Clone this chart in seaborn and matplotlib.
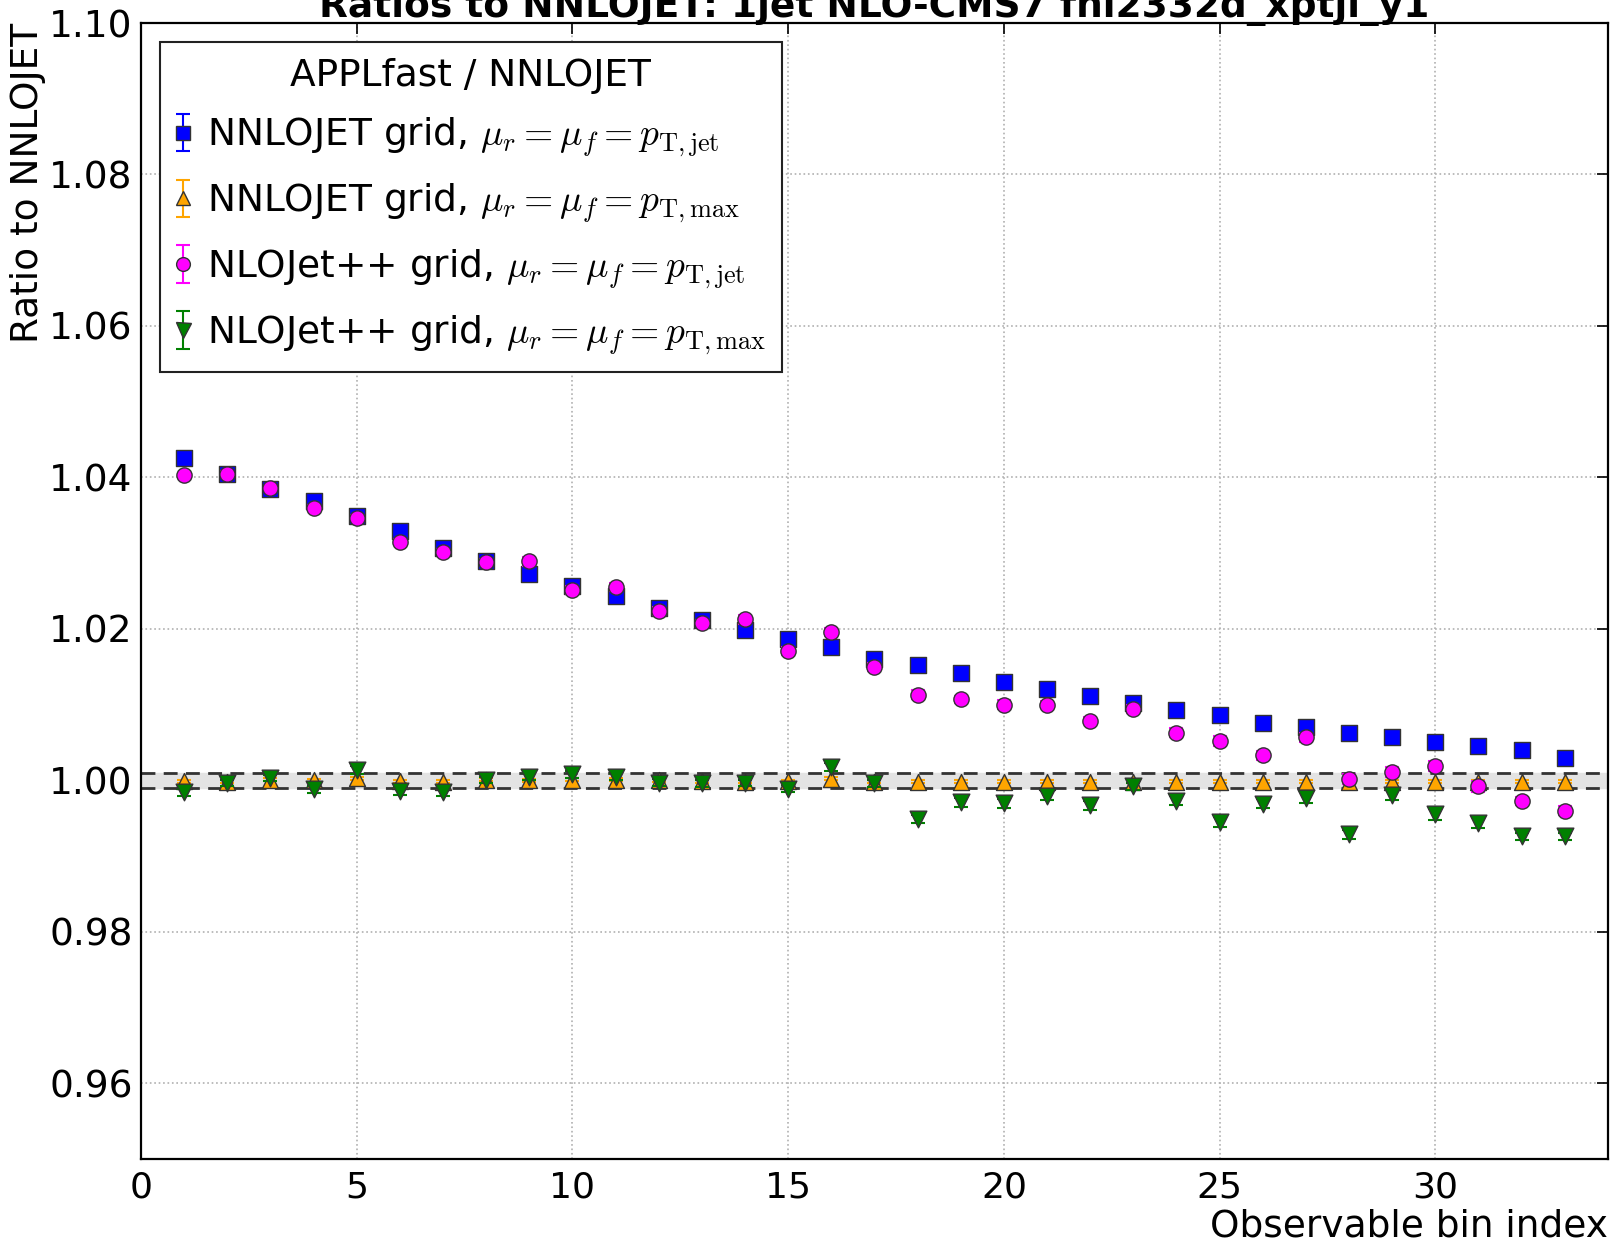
import numpy as np
import pandas as pd
import matplotlib
matplotlib.use("Agg")
import matplotlib.pyplot as plt
from matplotlib.lines import Line2D
from matplotlib.container import ErrorbarContainer
from matplotlib.legend_handler import HandlerTuple, HandlerErrorbar
import seaborn as sns

# ---------------- data ----------------
bins = list(range(1, 34))

nnlojet_ptjet = [1.0426, 1.0404, 1.0385, 1.0369, 1.0349, 1.0329, 1.0307, 1.0289, 1.0273, 1.0257,
                 1.0243, 1.0228, 1.0212, 1.0198, 1.0187, 1.0176, 1.0160, 1.0152, 1.0142, 1.0130,
                 1.0120, 1.0111, 1.0102, 1.0093, 1.0086, 1.0076, 1.0071, 1.0063, 1.0057, 1.0051,
                 1.0046, 1.0040, 1.0029]
nnlojet_ptjet_err = [0.0002] * 33

nnlojet_ptmax = [0.9999, 0.9998, 1.0001, 1.0000, 1.0003, 0.9999, 0.9998, 1.0001, 1.0000, 1.0001,
                 1.0001, 1.0000, 0.9999, 0.9998, 0.9999, 1.0002, 0.9998, 0.9998, 0.9998, 0.9998,
                 0.9998, 0.9998, 0.9998, 0.9998, 0.9998, 0.9998, 0.9998, 0.9998, 0.9998, 0.9998,
                 0.9998, 0.9998, 0.9998]
nnlojet_ptmax_err = [0.0002] * 33

nlojet_ptjet = [1.0403, 1.0405, 1.0386, 1.0360, 1.0347, 1.0315, 1.0302, 1.0288, 1.0289, 1.0251,
                1.0255, 1.0224, 1.0208, 1.0213, 1.0171, 1.0196, 1.0150, 1.0113, 1.0107, 1.0100,
                1.0100, 1.0079, 1.0094, 1.0063, 1.0052, 1.0033, 1.0057, 1.0002, 1.0011, 1.0019,
                0.9992, 0.9973, 0.9960]
nlojet_ptjet_err = [0.0003, 0.0003, 0.0003, 0.0004, 0.0003, 0.0004, 0.0004, 0.0004, 0.0006, 0.0005,
                    0.0005, 0.0005, 0.0004, 0.0006, 0.0005, 0.0005, 0.0005, 0.0006, 0.0005, 0.0006,
                    0.0005, 0.0005, 0.0005, 0.0006, 0.0006, 0.0006, 0.0006, 0.0007, 0.0007, 0.0007,
                    0.0007, 0.0005, 0.0006]

nlojet_ptmax = [0.9984, 0.9996, 1.0003, 0.9988, 1.0014, 0.9986, 0.9985, 1.0000, 1.0005, 1.0008,
                1.0005, 0.9997, 0.9996, 0.9996, 0.9989, 1.0018, 0.9996, 0.9949, 0.9971, 0.9970,
                0.9980, 0.9967, 0.9992, 0.9973, 0.9945, 0.9969, 0.9977, 0.9929, 0.9981, 0.9955,
                0.9944, 0.9926, 0.9926]
nlojet_ptmax_err = [0.0005, 0.0004, 0.0004, 0.0005, 0.0005, 0.0005, 0.0005, 0.0004, 0.0005, 0.0005,
                    0.0005, 0.0005, 0.0005, 0.0004, 0.0005, 0.0005, 0.0005, 0.0005, 0.0006, 0.0006,
                    0.0006, 0.0006, 0.0005, 0.0006, 0.0006, 0.0006, 0.0007, 0.0006, 0.0007, 0.0007,
                    0.0007, 0.0005, 0.0005]

labels = [r"NNLOJET grid, $\mu_r = \mu_f = p_{\mathrm{T,jet}}$",
          r"NNLOJET grid, $\mu_r = \mu_f = p_{\mathrm{T,max}}$",
          r"NLOJet++ grid, $\mu_r = \mu_f = p_{\mathrm{T,jet}}$",
          r"NLOJet++ grid, $\mu_r = \mu_f = p_{\mathrm{T,max}}$"]
legend_title = "APPLfast / NNLOJET"
title = "Ratios to NNLOJET: 1jet NLO-CMS7 fnl2332d_xptjl_y1"
xlabel = "Observable bin index"
ylabel = "Ratio to NNLOJET"
yticks = [0.96, 0.98, 1.00, 1.02, 1.04, 1.06, 1.08, 1.10]
xticks = [0, 5, 10, 15, 20, 25, 30]

# ---------------- style ----------------
sns.set_theme(style="white")
plt.rcParams.update({
    "font.family": ["DejaVu Sans"],
    "mathtext.fontset": "cm",
    "text.color": "black",
    "axes.labelcolor": "black",
    "xtick.color": "black",
    "ytick.color": "black",
    "xtick.direction": "in",
    "ytick.direction": "in",
    "xtick.top": True,
    "ytick.right": True,
    "xtick.major.size": 8,
    "ytick.major.size": 8,
    "xtick.major.width": 1.2,
    "ytick.major.width": 1.2,
    "axes.edgecolor": "black",
    "axes.linewidth": 1.6,
})

fig = plt.figure(figsize=(16.11, 12.44), dpi=100)
ax = fig.add_axes([0.0875, 0.0683, 0.9106, 0.9132])

# reference band
ax.axhspan(0.999, 1.001, color="#e3e3e3", zorder=1)
ax.axhline(1.001, color="#333333", ls=(0, (5, 3)), lw=2, zorder=2)
ax.axhline(0.999, color="#333333", ls=(0, (5, 3)), lw=2, zorder=2)

series = [
    (nnlojet_ptjet, nnlojet_ptjet_err, "s", "#0000ff", 11.5),
    (nnlojet_ptmax, nnlojet_ptmax_err, "^", "#ffa500", 11.5),
    (nlojet_ptjet, nlojet_ptjet_err, "o", "#ff00ff", 11),
    (nlojet_ptmax, nlojet_ptmax_err, "v", "#008000", 12),
]

handles = []
for i, (vals, errs, mk, col, ms) in enumerate(series):
    df = pd.DataFrame({"bin": bins, "ratio": vals})
    eb = ax.errorbar(bins, vals, yerr=errs, fmt="none", ecolor=col, elinewidth=1.5,
                     capsize=5, capthick=1.5, zorder=3 + 2 * i)
    sns.scatterplot(data=df, x="bin", y="ratio", marker=mk, color=col, s=ms ** 2,
                    edgecolor="#333333", linewidth=1.0, ax=ax, legend=False, zorder=4 + 2 * i)
    mh = Line2D([], [], marker=mk, ls="", color=col, markersize=ms * 0.9,
                markeredgecolor="#333333", markeredgewidth=1.0)
    handles.append((eb, mh))

ax.set_xlim(0, 34)
ax.set_ylim(0.95, 1.10)
ax.set_xticks(xticks)
ax.set_yticks(yticks)
ax.set_yticklabels([f"{t:.2f}" for t in yticks])
ax.tick_params(axis="y", labelsize=27, pad=6)
ax.tick_params(axis="x", labelsize=26, pad=8)
ax.grid(True, ls=":", color="#b0b0b0", lw=1.2)
ax.set_axisbelow(True)

ax.set_title(title, fontsize=27, fontweight="bold", pad=4)
ax.set_xlabel(xlabel, fontsize=27, loc="right", labelpad=3)
ax.set_ylabel(ylabel, fontsize=27, loc="top", labelpad=2)

leg = ax.legend(handles, labels, title=legend_title, loc="upper left",
                fontsize=27, title_fontsize=27, frameon=True, fancybox=False,
                edgecolor="#222222", framealpha=1, handlelength=0.4,
                handletextpad=0.45, borderaxespad=0.5, borderpad=0.42, labelspacing=0.6,
                handler_map={tuple: HandlerTuple(ndivide=1),
                             ErrorbarContainer: HandlerErrorbar(xerr_size=0.2, yerr_size=0.5)})
leg.get_frame().set_linewidth(1.5)

fig.savefig("out.png", dpi=100)
